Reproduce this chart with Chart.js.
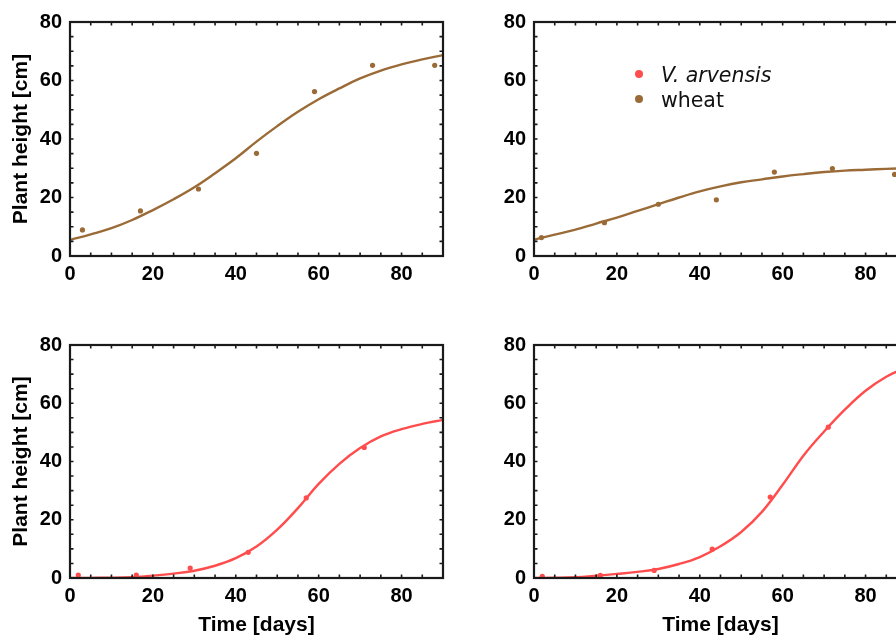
<!DOCTYPE html>
<html><head><meta charset="utf-8">
<script src="https://cdn.jsdelivr.net/npm/chart.js@4"></script>
<style>
html,body{margin:0;padding:0;background:#fff;overflow:hidden;width:896px;height:636px;position:relative}
.panel{position:absolute}
canvas{display:block}
.leg{position:absolute;font-family:"DejaVu Sans",sans-serif;font-size:20.5px;line-height:25px;color:#111;white-space:nowrap}
.dot{position:absolute;width:8px;height:8px;border-radius:50%}
</style></head><body>
<div class="panel" style="left:0;top:0"><canvas id="cA" width="448" height="300"></canvas></div>
<div class="panel" style="left:464px;top:0"><canvas id="cB" width="460" height="300"></canvas></div>
<div class="panel" style="left:0;top:323px"><canvas id="cC" width="448" height="313"></canvas></div>
<div class="panel" style="left:464px;top:323px"><canvas id="cD" width="460" height="313"></canvas></div>
<div class="dot" style="left:635px;top:70px;background:#ff4d4d"></div>
<div class="dot" style="left:635px;top:95px;background:#9b6b37"></div>
<div class="leg" style="left:661px;top:63px"><i>V. arvensis</i><br>wheat</div>
<script>
// ---- data ----
const xTicks = [0, 20, 40, 60, 80];
const yTicks = [0, 20, 40, 60, 80];
const fitDays = [0, 5, 10, 15, 20, 25, 30, 35, 40, 45, 50, 55, 60, 65, 70, 75, 80, 85, 90];

// top-left: wheat
const daysA = [3, 17, 31, 45, 59, 73, 88];
const wheatA = [8.9, 15.4, 22.9, 35.1, 56.2, 65.2, 65.2];
const wheatFitA = [5.5, 7.4, 9.5, 12.3, 15.7, 19.4, 23.5, 28.3, 33.4, 39.1, 44.4, 49.3, 53.6, 57.3, 60.7, 63.4, 65.5, 67.2, 68.7];

// top-right: wheat
const daysB = [1.8, 17, 30, 44, 58, 72, 87];
const wheatB = [6.3, 11.4, 17.7, 19.2, 28.7, 29.9, 27.9];
const wheatFitB = [5.6, 7.3, 9.0, 11.1, 13.1, 15.4, 17.7, 20.0, 22.1, 23.8, 25.2, 26.2, 27.2, 28.0, 28.7, 29.2, 29.5, 29.8, 30.0];

// bottom-left: V. arvensis
const daysC = [2, 16, 29, 43, 57, 71];
const arvC = [1.0, 1.0, 3.4, 8.8, 27.5, 44.8];
const arvFitC = [0.0, 0.05, 0.1, 0.3, 0.8, 1.5, 2.5, 4.2, 6.8, 10.8, 16.6, 24.0, 32.3, 39.2, 44.6, 48.6, 51.1, 52.9, 54.3];

// bottom-right: V. arvensis
const daysD = [2, 16, 29, 43, 57, 71];
const arvD = [0.6, 0.9, 2.6, 9.9, 27.8, 51.8];
const arvFitD = [0.0, 0.1, 0.3, 0.8, 1.4, 2.1, 3.1, 4.8, 7.2, 10.9, 15.8, 22.7, 32.0, 42.0, 50.3, 57.8, 64.3, 69.1, 72.5];

const BROWN = '#9b6b37';
const RED = '#ff4d4d';

const pts = (xs, ys) => xs.map((x, i) => ({x, y: ys[i]}));

const framePlugin = {
  id: 'frame',
  afterDraw(chart) {
    const {ctx, chartArea: a, scales: {x, y}} = chart;
    ctx.save();
    ctx.strokeStyle = '#1a1a1a';
    ctx.lineWidth = 1.6;
    ctx.beginPath();
    for (let v = 0; v <= x.max; v += 5) {
      const p = x.getPixelForValue(v);
      ctx.moveTo(p, a.bottom); ctx.lineTo(p, a.bottom - 3.5);
      ctx.moveTo(p, a.top); ctx.lineTo(p, a.top + 3.5);
    }
    for (let v = 0; v <= y.max; v += 5) {
      const p = y.getPixelForValue(v);
      ctx.moveTo(a.left, p); ctx.lineTo(a.left + 3.5, p);
      ctx.moveTo(a.right, p); ctx.lineTo(a.right - 3.5, p);
    }
    ctx.stroke();
    ctx.lineWidth = 2.2;
    ctx.strokeRect(a.left, a.top, a.right - a.left, a.bottom - a.top);
    ctx.restore();
  }
};

function makeChart(id, days, vals, fit, color, opts) {
  new Chart(document.getElementById(id), {
    type: 'scatter',
    data: {
      datasets: [
        {data: pts(days, vals), backgroundColor: color, borderColor: color,
         pointRadius: 2.6, pointBorderWidth: 0, showLine: false},
        {data: pts(fitDays, fit), borderColor: color, backgroundColor: color,
         showLine: true, pointRadius: 0, borderWidth: 2.4, tension: 0.4}
      ]
    },
    options: {
      responsive: false,
      animation: false,
      layout: {padding: {top: 22, right: opts.padRight, left: 0, bottom: 0}},
      plugins: {legend: {display: false}, tooltip: {enabled: false}},
      scales: {
        x: {
          type: 'linear', min: 0, max: 90,
          grid: {display: false, drawTicks: false}, border: {display: false},
          afterBuildTicks: s => { s.ticks = xTicks.map(v => ({value: v})); },
          afterFit: s => { s.height = opts.xHeight; },
          ticks: {color: '#000', padding: 6, maxRotation: 0, autoSkip: false,
                  font: {family: 'Liberation Sans', weight: 'bold', size: 20}},
          title: {display: opts.xTitle, text: 'Time [days]', color: '#000',
                  padding: {top: 0, bottom: 0.5},
                  font: {family: 'Liberation Sans', weight: 'bold', size: 21, lineHeight: 1}}
        },
        y: {
          type: 'linear', min: 0, max: 80,
          grid: {display: false, drawTicks: false}, border: {display: false},
          afterBuildTicks: s => { s.ticks = yTicks.map(v => ({value: v})); },
          afterFit: s => { s.width = 70; },
          ticks: {color: '#000', padding: 8, autoSkip: false,
                  font: {family: 'Liberation Sans', weight: 'bold', size: 20}},
          title: {display: opts.yTitle, text: 'Plant height [cm]', color: '#000',
                  padding: {top: 9, bottom: 0},
                  font: {family: 'Liberation Sans', weight: 'bold', size: 21}}
        }
      }
    },
    plugins: [framePlugin]
  });
}

makeChart('cA', daysA, wheatA, wheatFitA, BROWN, {padRight: 5, xHeight: 44, xTitle: false, yTitle: true});
makeChart('cB', daysB, wheatB, wheatFitB, BROWN, {padRight: 17, xHeight: 44, xTitle: false, yTitle: false});
makeChart('cC', daysC, arvC, arvFitC, RED, {padRight: 5, xHeight: 58, xTitle: true, yTitle: true});
makeChart('cD', daysD, arvD, arvFitD, RED, {padRight: 17, xHeight: 58, xTitle: true, yTitle: false});
</script>
</body></html>
